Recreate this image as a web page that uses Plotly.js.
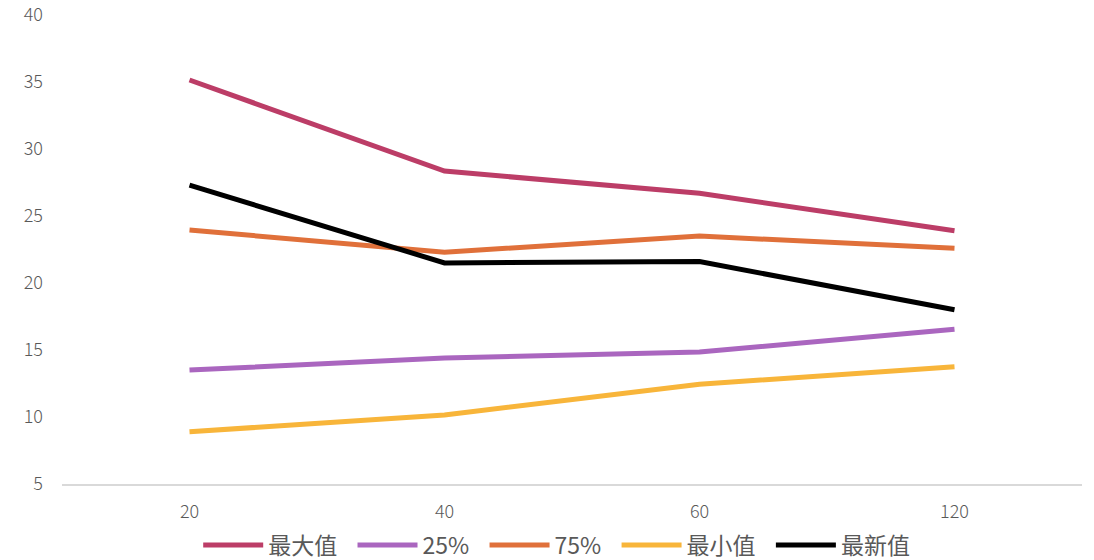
<!DOCTYPE html>
<html><head><meta charset="utf-8">
<script src="https://cdn.plot.ly/plotly-3.0.1.min.js"></script>
<style>html,body{margin:0;padding:0;background:#fff;}</style>
</head><body>
<div id="chart" style="width:1094px;height:560px;"></div>
<script>
var categories = ['20', '40', '60', '120'];
var seriesNames = ['最大值', '25%', '75%', '最小值', '最新值'];
var maxVals = [35.15, 28.35, 26.7, 23.9];
var p25Vals = [13.5, 14.4, 14.85, 16.55];
var p75Vals = [23.95, 22.3, 23.5, 22.6];
var minVals = [8.9, 10.15, 12.45, 13.75];
var latestVals = [27.3, 21.5, 21.6, 18.0];
var colors = ['#BC3D67', '#AA66BF', '#E0703A', '#F8B53A', '#000000'];
var allVals = [maxVals, p25Vals, p75Vals, minVals, latestVals];
var pad = '\u00a0\u00a0';

var traces = allVals.map(function(v, i) {
  return {
    x: categories, y: v, type: 'scatter', mode: 'lines',
    name: i < allVals.length - 1 ? seriesNames[i] + pad : seriesNames[i],
    line: {color: colors[i], width: 5}
  };
});

var layout = {
  width: 1094, height: 560,
  margin: {l: 62, r: 12, t: 15, b: 76, autoexpand: false},
  paper_bgcolor: '#fff', plot_bgcolor: '#fff',
  font: {family: '"Noto Sans CJK SC", "Open Sans", sans-serif', color: '#595959', size: 18},
  xaxis: {type: 'category', range: [-0.5, 3.5], showgrid: false, zeroline: false,
          showline: true, linecolor: '#D9D9D9', linewidth: 2, ticks: '', automargin: false,
          tickfont: {size: 18, color: '#595959', weight: 300}, ticklabelstandoff: 10},
  yaxis: {range: [5, 40], dtick: 5, tick0: 5, showgrid: false, zeroline: false, showline: false,
          automargin: false,
          tickfont: {size: 18, color: '#595959', weight: 300}, ticks: '', ticklabelstandoff: 18},
  showlegend: true,
  legend: {orientation: 'h', x: 0.485, xanchor: 'center', y: -0.13, yanchor: 'middle',
           font: {size: 23, color: '#595959'}, itemwidth: 60}
};
Plotly.newPlot('chart', traces, layout, {displayModeBar: false, staticPlot: true});
</script>
</body></html>
